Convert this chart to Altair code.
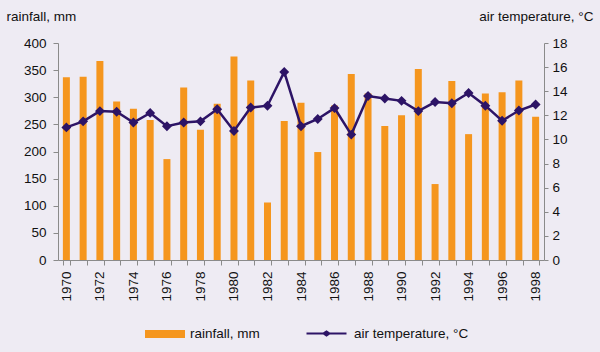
import altair as alt
import pandas as pd

years = [str(y) for y in range(1970, 1999)]
rainfall = [337, 338, 367, 292, 279, 258, 186, 318, 240, 288, 375, 331, 106, 256,
            290, 199, 285, 343, 307, 247, 267, 352, 140, 330, 232, 307, 309, 331, 264]
temperature = [11.0, 11.5, 12.35, 12.3, 11.4, 12.2, 11.1, 11.4, 11.5, 12.5, 10.7, 12.65,
               12.8, 15.6, 11.1, 11.7, 12.6, 10.4, 13.6, 13.4, 13.2, 12.35, 13.1, 13.0,
               13.85, 12.8, 11.55, 12.4, 12.9]

df = pd.DataFrame({"year": years, "rainfall": rainfall, "temp": temperature})

FONT = "Liberation Sans"
FS = 13.5
ORANGE = "#F5961E"
PURPLE = "#2D1466"
GREY = "#8A8A8A"

xenc = alt.X("year:O", title=None,
             scale=alt.Scale(paddingInner=0.56, paddingOuter=0.28),
             axis=alt.Axis(labelAngle=-90, tickBand="extent", labelBaseline="middle",
                           labelAlign="right", labelPadding=6, tickSize=5,
                           labelExpr="toNumber(datum.value) % 2 == 0 ? datum.label : ''",
                           labelColor="#111", domainColor=GREY, tickColor=GREY,
                           labelFont=FONT, labelFontSize=FS))

bars = alt.Chart(df).mark_bar(size=7).encode(
    x=xenc,
    y=alt.Y("rainfall:Q", scale=alt.Scale(domain=[0, 400], nice=False),
            axis=alt.Axis(values=list(range(0, 401, 50)), title="rainfall, mm",
                          titleAngle=0, titleAlign="left", titleBaseline="alphabetic",
                          titleX=-52, titleY=-23, titleFontWeight="normal",
                          titleFont=FONT, titleFontSize=FS, titleColor="#111",
                          labelFont=FONT, labelFontSize=FS, labelColor="#111",
                          tickSize=5, labelPadding=7, grid=False,
                          domainColor=GREY, tickColor=GREY)),
    color=alt.Color("s:N", scale=alt.Scale(domain=["rainfall, mm"], range=[ORANGE]),
                    legend=alt.Legend(title=None, orient="none", legendX=87, legendY=271,
                                      symbolType="M-1,-0.2H1V0.2H-1Z", symbolSize=1600,
                                      symbolStrokeWidth=0, labelFont=FONT,
                                      labelFontSize=FS, labelColor="#111",
                                      labelOffset=5, padding=0)),
).transform_calculate(s="'rainfall, mm'")

line = alt.Chart(df).mark_line(strokeWidth=2.5, point=alt.OverlayMarkDef(
    shape="diamond", size=50, filled=True, color=PURPLE)).encode(
    x=xenc,
    y=alt.Y("temp:Q", scale=alt.Scale(domain=[0, 18], nice=False),
            axis=alt.Axis(orient="right", values=list(range(0, 19, 2)),
                          title="air temperature, °C",
                          titleAngle=0, titleAlign="right", titleBaseline="alphabetic",
                          titleX=49, titleY=-23, titleFontWeight="normal",
                          titleFont=FONT, titleFontSize=FS, titleColor="#111",
                          labelFont=FONT, labelFontSize=FS, labelColor="#111",
                          tickSize=4, labelPadding=4, grid=False,
                          domainColor=GREY, tickColor=GREY)),
    stroke=alt.Stroke("s:N", scale=alt.Scale(domain=["air temperature, °C"], range=[PURPLE]),
                      legend=alt.Legend(title=None, orient="none", legendX=247, legendY=269,
                                        symbolType="M-1,0H1M-0.14,0L0,-0.1L0.14,0L0,0.1Z",
                                        symbolSize=1600, symbolStrokeWidth=2.2,
                                        symbolFillColor=PURPLE, labelFont=FONT,
                                        labelFontSize=FS, labelColor="#111",
                                        labelOffset=6, padding=0)),
).transform_calculate(s="'air temperature, °C'")

chart = alt.layer(bars, line).resolve_scale(y="independent", color="independent").properties(
    width=486, height=217,
    background="#EEEBF3",
    padding={"left": 58, "top": 43, "right": 56, "bottom": 92},
    autosize=alt.AutoSizeParams(type="none"),
).configure_view(stroke=None)

chart.save("out.html", embed_options={"renderer": "svg", "actions": False})
